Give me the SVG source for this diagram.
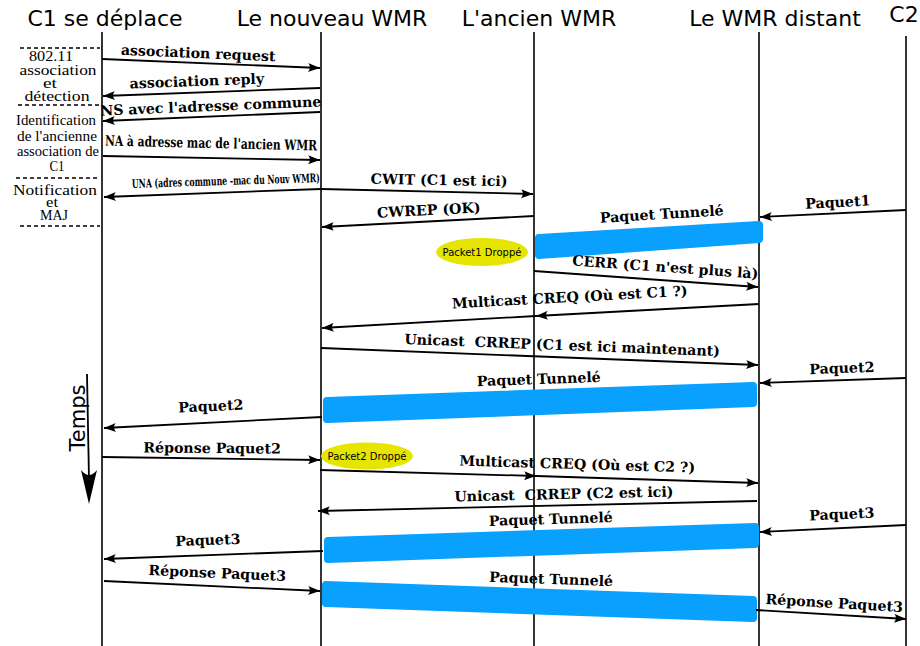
<svg xmlns="http://www.w3.org/2000/svg" width="920" height="646" viewBox="0 0 920 646">
<style>
.hdr{font-family:"DejaVu Sans","Liberation Sans",sans-serif;font-size:22px;fill:#000;text-anchor:middle}
.tmp{font-family:"DejaVu Sans","Liberation Sans",sans-serif;font-size:21px;fill:#000;text-anchor:middle}
.life{stroke:#000;stroke-width:1.6;fill:none}
.dash{stroke:#000;stroke-width:1.3;stroke-dasharray:4,3;fill:none}
.side{font-family:"Liberation Serif","Times New Roman",serif;font-size:15.5px;fill:#000;text-anchor:middle}
.msg{font-family:"DejaVu Serif","Liberation Serif",serif;font-weight:bold;font-size:14.2px;fill:#000;text-anchor:middle}
.arr{stroke:#000;stroke-width:1.8;fill:none;marker-end:url(#ah)}
.band{fill:#0aa0fe;stroke:#0aa0fe;stroke-width:8;stroke-linejoin:round}
.drop{fill:#e5e500}
.dtxt{font-family:"DejaVu Sans","Liberation Sans",sans-serif;font-size:10px;fill:#000;text-anchor:middle}
</style>
<defs>
<marker id="ah" viewBox="-14 -7 16 14" refX="0" refY="0" markerWidth="16" markerHeight="14" markerUnits="userSpaceOnUse" orient="auto">
<path d="M0,0 L-12,-4.5 C-9.5,-1.8 -9.5,1.8 -12,4.5 Z" fill="#000"/>
</marker>
</defs>
<rect width="920" height="646" fill="#fff"/>

<g id="c1">
<text class="hdr" x="105" y="26">C1 se déplace</text>
<line class="life" x1="102" y1="32" x2="102" y2="646"/>
</g>
<g id="nouveau-wmr">
<text class="hdr" x="332" y="26">Le nouveau WMR</text>
<line class="life" x1="321" y1="32" x2="321" y2="646"/>
</g>
<g id="ancien-wmr">
<text class="hdr" x="539" y="26">L'ancien WMR</text>
<line class="life" x1="534" y1="32" x2="534" y2="646"/>
</g>
<g id="wmr-distant">
<text class="hdr" x="775" y="26">Le WMR distant</text>
<line class="life" x1="759" y1="32" x2="759" y2="646"/>
</g>
<g id="c2">
<text class="hdr" x="904" y="22">C2</text>
<line class="life" x1="906" y1="36" x2="906" y2="646"/>
</g>

<g id="phases">
<line class="dash" x1="20" y1="48" x2="100" y2="48"/>
<line class="dash" x1="18" y1="105" x2="100" y2="105"/>
<line class="dash" x1="16" y1="178" x2="100" y2="178"/>
<line class="dash" x1="20" y1="226" x2="100" y2="226"/>
<text class="side" x="51" y="61" textLength="44" lengthAdjust="spacingAndGlyphs">802.11</text>
<text class="side" x="58" y="75" textLength="77" lengthAdjust="spacingAndGlyphs">association</text>
<text class="side" x="50" y="88" textLength="14" lengthAdjust="spacingAndGlyphs">et</text>
<text class="side" x="57" y="101" textLength="65" lengthAdjust="spacingAndGlyphs">détection</text>
<text class="side" x="56" y="125" textLength="80" lengthAdjust="spacingAndGlyphs">Identification</text>
<text class="side" x="57" y="141" textLength="80" lengthAdjust="spacingAndGlyphs">de l'ancienne</text>
<text class="side" x="58" y="156" textLength="82" lengthAdjust="spacingAndGlyphs">association de</text>
<text class="side" x="57" y="171" textLength="15" lengthAdjust="spacingAndGlyphs">C1</text>
<text class="side" x="55" y="195" textLength="84" lengthAdjust="spacingAndGlyphs">Notification</text>
<text class="side" x="52" y="207" textLength="12" lengthAdjust="spacingAndGlyphs">et</text>
<text class="side" x="54" y="220" textLength="28" lengthAdjust="spacingAndGlyphs">MAJ</text>
</g>

<g id="temps">
<line x1="87" y1="374" x2="89" y2="480" stroke="#000" stroke-width="1.8"/>
<path d="M89,504 L81,470 Q89,480 97,470 Z" fill="#000"/>
<text class="tmp" transform="translate(85,418) rotate(-90)" x="0" y="0">Temps</text>
</g>

<g id="bands">
<polygon class="band" points="539,238 759,225 759,239 539,255"/>
<polygon class="band" points="327,401 753,386 753,403 327,419"/>
<polygon class="band" points="328,541 755,527 755,544 328,559"/>
<polygon class="band" points="326,585 753,600 753,618 326,603"/>
</g>

<g id="drops">
<ellipse class="drop" cx="482" cy="252" rx="46" ry="14"/>
<text class="dtxt" x="482" y="255.5">Packet1 Droppé</text>
<ellipse class="drop" cx="367" cy="456" rx="46" ry="13.5"/>
<text class="dtxt" x="367" y="459.5">Packet2 Droppé</text>
</g>

<g id="connectors">
<line class="arr" x1="102" y1="59" x2="320" y2="68"/>
<line class="arr" x1="320" y1="88" x2="103" y2="96"/>
<line class="arr" x1="320" y1="112" x2="103" y2="121"/>
<line class="arr" x1="103" y1="156" x2="320" y2="160"/>
<line class="arr" x1="321" y1="189" x2="104" y2="197"/>
<line class="arr" x1="321" y1="189" x2="533" y2="194"/>
<line class="arr" x1="534" y1="216" x2="322" y2="227"/>
<line class="arr" x1="906" y1="210" x2="760" y2="217"/>
<line class="arr" x1="534" y1="271" x2="758" y2="287"/>
<line class="arr" x1="759" y1="304" x2="536" y2="316"/>
<line class="arr" x1="536" y1="316" x2="322" y2="328"/>
<line class="arr" x1="321" y1="348" x2="758" y2="365"/>
<line class="arr" x1="906" y1="378" x2="760" y2="383"/>
<line class="arr" x1="322" y1="417" x2="104" y2="428"/>
<line class="arr" x1="102" y1="457" x2="320" y2="460"/>
<line class="arr" x1="320" y1="470" x2="536" y2="476"/>
<line class="arr" x1="536" y1="476" x2="758" y2="483"/>
<line class="arr" x1="757" y1="501" x2="318" y2="511"/>
<line class="arr" x1="906" y1="525" x2="760" y2="532"/>
<line class="arr" x1="323" y1="551" x2="104" y2="559"/>
<line class="arr" x1="104" y1="581" x2="320" y2="591"/>
<line class="arr" x1="756" y1="610" x2="906" y2="619"/>
</g>

<g id="labels">
<text class="msg" x="198" y="58" transform="rotate(2.4 198 58)">association request</text>
<text class="msg" x="197" y="86" transform="rotate(-2.1 197 86)">association reply</text>
<text class="msg" x="211" y="111" transform="rotate(-2.4 211 111)">NS avec l'adresse commune</text>
<text class="msg" x="211" y="148" transform="rotate(1.3 211 148)" textLength="212" lengthAdjust="spacingAndGlyphs">NA à adresse mac de l'ancien WMR</text>
<text class="msg" x="226" y="185" transform="rotate(-1.8 226 185)" style="font-size:12px" textLength="188" lengthAdjust="spacingAndGlyphs">UNA (adres commune -mac du Nouv WMR)</text>
<text class="msg" x="439" y="185" transform="rotate(1 439 185)">CWIT (C1 est ici)</text>
<text class="msg" x="429" y="215" transform="rotate(-3 429 215)">CWREP (OK)</text>
<text class="msg" x="838" y="207" transform="rotate(-3 838 207)">Paquet1</text>
<text class="msg" x="662" y="219" transform="rotate(-3.5 662 219)">Paquet Tunnelé</text>
<text class="msg" x="665" y="272" transform="rotate(4.1 665 272)">CERR (C1 n'est plus là)</text>
<text class="msg" x="570" y="302" transform="rotate(-3.1 570 302)">Multicast CREQ (Où est C1 ?)</text>
<text class="msg" x="562" y="350" transform="rotate(2.2 562 350)" xml:space="preserve">Unicast  CRREP (C1 est ici maintenant)</text>
<text class="msg" x="842" y="373" transform="rotate(-2 842 373)">Paquet2</text>
<text class="msg" x="539" y="384" transform="rotate(-2 539 384)">Paquet Tunnelé</text>
<text class="msg" x="211" y="411" transform="rotate(-2.5 211 411)">Paquet2</text>
<text class="msg" x="212" y="453" transform="rotate(0.5 212 453)">Réponse Paquet2</text>
<text class="msg" x="577" y="469" transform="rotate(1.7 577 469)">Multicast CREQ (Où est C2 ?)</text>
<text class="msg" x="564" y="499" transform="rotate(-1.3 564 499)" xml:space="preserve">Unicast  CRREP (C2 est ici)</text>
<text class="msg" x="842" y="519" transform="rotate(-2.5 842 519)">Paquet3</text>
<text class="msg" x="551" y="524" transform="rotate(-1.8 551 524)">Paquet Tunnelé</text>
<text class="msg" x="208" y="545" transform="rotate(-2 208 545)">Paquet3</text>
<text class="msg" x="217" y="578" transform="rotate(2.5 217 578)">Réponse Paquet3</text>
<text class="msg" x="551" y="584" transform="rotate(2 551 584)">Paquet Tunnelé</text>
<text class="msg" x="834" y="608" transform="rotate(3.4 834 608)">Réponse Paquet3</text>
</g>
</svg>
